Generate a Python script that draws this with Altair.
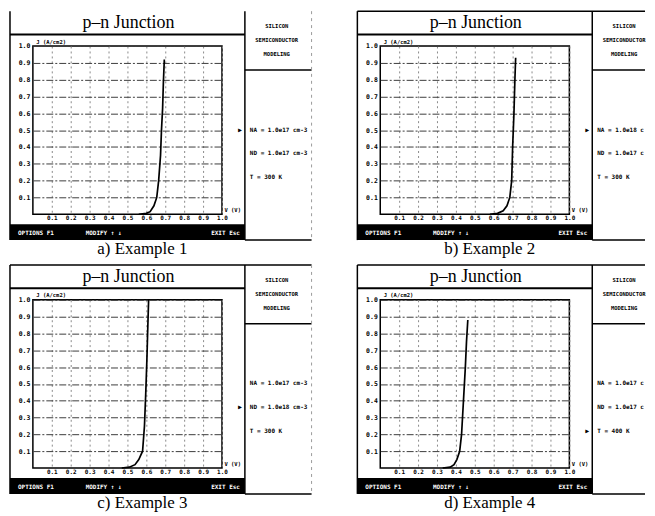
import altair as alt
import pandas as pd

# ---------------- data ----------------
captions = ["a) Example 1", "b) Example 2", "c) Example 3", "d) Example 4"]
panel_title = "p\u2013n Junction"

v1 = [0.56, 0.60, 0.62, 0.64, 0.655, 0.665, 0.675, 0.68, 0.686, 0.69, 0.695]
j1 = [0.00, 0.005, 0.015, 0.05, 0.10, 0.20, 0.35, 0.50, 0.63, 0.78, 0.92]
v2 = [0.58, 0.62, 0.65, 0.67, 0.685, 0.695, 0.700, 0.707, 0.712, 0.716]
j2 = [0.00, 0.005, 0.02, 0.05, 0.10, 0.20, 0.40, 0.60, 0.80, 0.93]
v3 = [0.47, 0.51, 0.54, 0.56, 0.58, 0.59, 0.597, 0.603, 0.608, 0.612]
j3 = [0.00, 0.005, 0.02, 0.05, 0.10, 0.25, 0.45, 0.65, 0.85, 1.00]
v4 = [0.33, 0.37, 0.39, 0.405, 0.42, 0.43, 0.44, 0.45, 0.456, 0.463]
j4 = [0.00, 0.005, 0.02, 0.05, 0.10, 0.20, 0.40, 0.60, 0.75, 0.88]

na_text = ["NA = 1.0e17 cm-3", "NA = 1.0e18 cm-3", "NA = 1.0e17 cm-3", "NA = 1.0e17 cm-3"]
nd_text = ["ND = 1.0e17 cm-3", "ND = 1.0e17 cm-3", "ND = 1.0e18 cm-3", "ND = 1.0e17 cm-3"]
t_text = ["T = 300 K", "T = 300 K", "T = 300 K", "T = 400 K"]
selected_row = [0, 0, 1, 2]

side_text = ["SILICON", "SEMICONDUCTOR", "MODELING"]
footer_text = ["OPTIONS F1", "MODIFY \u2191 \u2193", "EXIT Esc"]
tick_values = [0.1, 0.2, 0.3, 0.4, 0.5, 0.6, 0.7, 0.8, 0.9, 1.0]
x_title = "V (V)"
y_title = "J (A/cm2)"

W, H = 190, 169
MONO = "DejaVu Sans Mono"
SERIF = "Liberation Serif"

dummy = alt.Data(values=[{"k": 0}])


def hline(x1, x2, y, color="black", w=1.5, dash=None):
    kw = {"color": color, "strokeWidth": w}
    if dash:
        kw["strokeDash"] = dash
    return alt.Chart(dummy).mark_rule(**kw).encode(
        x=alt.value(x1), x2=alt.value(x2), y=alt.value(y))


def vline(x, y1, y2, color="black", w=1.5, dash=None):
    kw = {"color": color, "strokeWidth": w}
    if dash:
        kw["strokeDash"] = dash
    return alt.Chart(dummy).mark_rule(**kw).encode(
        x=alt.value(x), y=alt.value(y1), y2=alt.value(y2))


def label(x, y, s, **kw):
    return alt.Chart(dummy).mark_text(text=s, **kw).encode(
        x=alt.value(x), y=alt.value(y))


def panel(i, v, j, right_col, top_line=True):
    df = pd.DataFrame({"V": v, "J": j})
    scale = alt.Scale(domain=[0, 1], nice=False, zero=True)
    curve = alt.Chart(df).mark_line(color="black", strokeWidth=1.7).encode(
        x=alt.X("V:Q", scale=scale, axis=alt.Axis(
            values=tick_values, format=".1f", title=x_title, ticks=False, domain=False,
            labelFont=MONO, labelFontSize=6, labelFontWeight="bold", labelColor="black",
            labelPadding=3, labelBaseline="middle", labelFlush=False, labelOverlap=False,
            grid=True, gridColor="#8a8a8a", gridDash=[2, 3], gridWidth=1,
            titleFont=MONO, titleFontSize=5.5, titleFontWeight="bold",
            titleX=W + 2, titleY=-2, titleAlign="left", titleBaseline="bottom")),
        y=alt.Y("J:Q", scale=scale, axis=alt.Axis(
            values=tick_values, format=".1f", title=y_title, ticks=False, domain=False,
            labelFont=MONO, labelFontSize=6.5, labelFontWeight="bold", labelColor="black",
            labelPadding=3, labelFlush=False, labelOverlap=False,
            grid=True, gridColor="#3c3c3c", gridDash=[7, 2, 2, 2], gridWidth=1,
            titleFont=MONO, titleFontSize=5.5, titleFontWeight="bold", titleAngle=0,
            titleX=3, titleY=-2, titleAlign="left", titleBaseline="bottom")),
    )

    L, M = -23, 213
    R = 266 if right_col else 280
    T, TB, FT, FB = -35, -11.5, 179, 195
    layers = []
    layers.append(alt.Chart(dummy).mark_rect(color="black").encode(
        x=alt.value(L), x2=alt.value(M), y=alt.value(FT), y2=alt.value(FB)))
    layers.append(vline(L, T, FB))
    layers.append(vline(M, T, FB))
    if top_line:
        layers.append(hline(L, R, T))
    layers.append(hline(L, M, TB, w=2))
    layers.append(hline(M, R, 24))
    layers.append(hline(M, R, FB))
    if not right_col:
        layers.append(vline(R, T, FB, color="#9a9a9a", w=1, dash=[3, 4]))

    layers.append(label(96, -23, panel_title, font=SERIF, fontSize=18,
                        align="center", baseline="middle", color="black"))
    for k, s in enumerate(side_text):
        layers.append(label(245, -20 + 14 * k, s, font=MONO, fontSize=5.5,
                            fontWeight="bold", align="center", baseline="middle",
                            color="black"))
    params = [na_text[i], nd_text[i], t_text[i]]
    for k, s in enumerate(params):
        extra = {"limit": R - 218, "ellipsis": "\u200b"} if right_col else {}
        layers.append(label(218, 84 + 24 * k, s, font=MONO, fontSize=6,
                            fontWeight="bold", align="left", baseline="middle",
                            color="black", **extra))
    layers.append(label(208, 84 + 24 * selected_row[i], "\u25b8", font=MONO,
                        fontSize=10, align="center", baseline="middle", color="black"))
    layers.append(label(-15, 188, footer_text[0], font=MONO, fontSize=6,
                        fontWeight="bold", align="left", baseline="middle", color="white"))
    layers.append(label(53, 188, footer_text[1], font=MONO, fontSize=6,
                        fontWeight="bold", align="left", baseline="middle", color="white"))
    layers.append(label(208, 188, footer_text[2], font=MONO, fontSize=6,
                        fontWeight="bold", align="right", baseline="middle", color="white"))
    layers.append(label(110, 204, captions[i], font=SERIF, fontSize=17,
                        align="center", baseline="middle", color="black"))

    return alt.layer(curve, *layers).properties(width=W, height=H)


p1 = panel(0, v1, j1, right_col=False, top_line=False)
p2 = panel(1, v2, j2, right_col=True)
p3 = panel(2, v3, j3, right_col=False)
p4 = panel(3, v4, j4, right_col=True)

chart = alt.concat(
    p1, p2, p3, p4, columns=2, spacing={"column": 159, "row": 86}, bounds="flush"
).properties(
    padding={"left": 0, "top": 0, "right": 0, "bottom": 0},
    background="white",
).configure_view(stroke="black", strokeWidth=1.5)

chart.save("out.html", embed_options={"renderer": "svg", "actions": False})
